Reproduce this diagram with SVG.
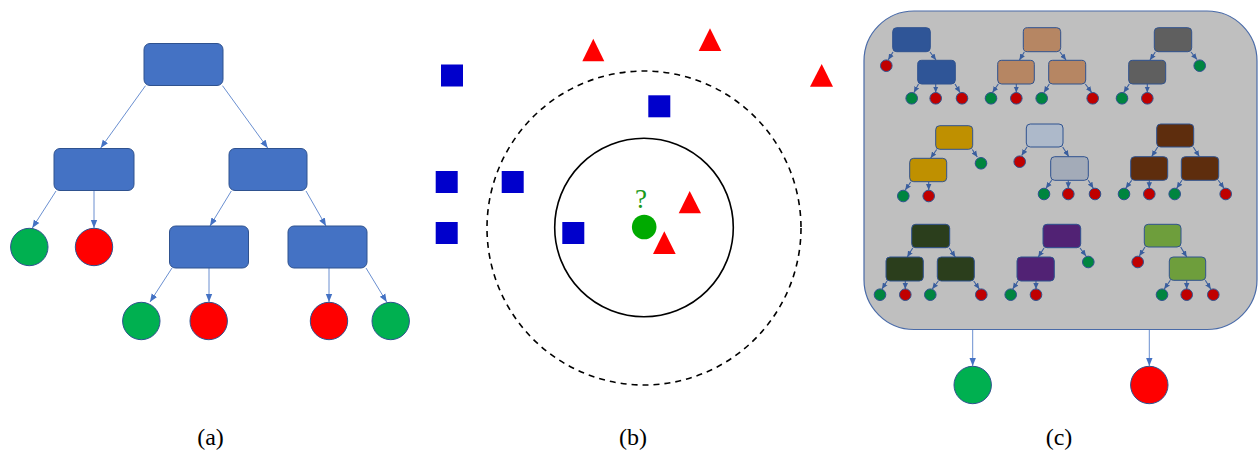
<svg xmlns="http://www.w3.org/2000/svg" width="1258" height="451" viewBox="0 0 1258 451">
<style>
.bn{fill:#4472C4;stroke:#2F528F;stroke-width:1}
.bg{fill:#00B050;stroke:#2F528F;stroke-width:1}
.br{fill:#FF0000;stroke:#2F528F;stroke-width:1}
.ba{stroke:#4472C4;stroke-width:0.8;fill:none;marker-end:url(#ah)}
.sa{stroke:#3A5E9E;stroke-width:1.1;fill:none;marker-end:url(#sh)}
.sn{stroke:#2F528F;stroke-width:1}
.sg{fill:#00853F;stroke:#2F528F;stroke-width:1}
.sr{fill:#C00000;stroke:#2F528F;stroke-width:1}
.sq{fill:#0000CC}
.tr{fill:#FF0000}
.lbl{font-family:"Liberation Serif","Times New Roman",serif;font-size:24px;fill:#000;text-anchor:middle}
</style>
<defs>
<marker id="ah" markerUnits="userSpaceOnUse" markerWidth="8" markerHeight="8" viewBox="0 0 8 8" refX="8" refY="4" orient="auto">
<path d="M0,0.8 L8,4 L0,7.2 Z" fill="#4472C4"/>
</marker>
<marker id="sh" markerUnits="userSpaceOnUse" markerWidth="6" markerHeight="6" viewBox="0 0 6 6" refX="6" refY="3" orient="auto">
<path d="M0,0.3 L6,3 L0,5.7 Z" fill="#3A5E9E"/>
</marker>
</defs>
<rect width="1258" height="451" fill="#FFFFFF"/>

<!-- ===== Panel (a) ===== -->
<g id="a-connectors">
<line class="ba" x1="145.5" y1="85.7" x2="100.7" y2="148"/>
<line class="ba" x1="222.5" y1="85.7" x2="267.7" y2="148"/>
<line class="ba" x1="56" y1="191" x2="32.3" y2="228"/>
<line class="ba" x1="94" y1="191" x2="94" y2="228"/>
<line class="ba" x1="231.3" y1="191" x2="210" y2="226"/>
<line class="ba" x1="306" y1="191" x2="326" y2="226"/>
<line class="ba" x1="172" y1="268" x2="150" y2="302"/>
<line class="ba" x1="209" y1="268" x2="209" y2="302"/>
<line class="ba" x1="329" y1="268" x2="329" y2="302"/>
<line class="ba" x1="366" y1="268" x2="386.7" y2="302"/>
</g>
<g id="a-root"><rect class="bn" x="144" y="43.5" width="79" height="42" rx="6"/></g>
<g id="a-left"><rect class="bn" x="54" y="148.5" width="80" height="42" rx="6"/></g>
<g id="a-right"><rect class="bn" x="229" y="148.5" width="78" height="42" rx="6"/></g>
<g id="a-rl"><rect class="bn" x="169.5" y="226" width="79" height="42" rx="6"/></g>
<g id="a-rr"><rect class="bn" x="288" y="226" width="79" height="42" rx="6"/></g>
<g id="a-leaf1"><circle class="bg" cx="29.3" cy="247" r="18.7"/></g>
<g id="a-leaf2"><circle class="br" cx="94" cy="247" r="18.7"/></g>
<g id="a-leaf3"><circle class="bg" cx="141.3" cy="321" r="18.7"/></g>
<g id="a-leaf4"><circle class="br" cx="208.7" cy="321" r="18.7"/></g>
<g id="a-leaf5"><circle class="br" cx="329" cy="321" r="18.7"/></g>
<g id="a-leaf6"><circle class="bg" cx="390.7" cy="321" r="18.7"/></g>
<text class="lbl" x="210.5" y="445">(a)</text>

<!-- ===== Panel (b) ===== -->
<g id="b-scene">
<circle cx="644" cy="228" r="157" fill="none" stroke="#000" stroke-width="1.6" stroke-dasharray="6,5"/>
<circle cx="644" cy="227.5" r="89.3" fill="none" stroke="#000" stroke-width="1.6"/>
<rect class="sq" x="441" y="64.5" width="22" height="22"/>
<rect class="sq" x="648.3" y="95.3" width="22" height="22"/>
<rect class="sq" x="435.7" y="171" width="22" height="22"/>
<rect class="sq" x="501.7" y="171" width="22" height="22"/>
<rect class="sq" x="435.7" y="222" width="22" height="22"/>
<rect class="sq" x="562.3" y="222" width="22" height="22"/>
<polygon class="tr" points="593.3,38.7 582.3,61.3 604.3,61.3"/>
<polygon class="tr" points="710,28.3 698.7,51 721.3,51"/>
<polygon class="tr" points="821.7,64 810,86.7 833,86.7"/>
<polygon class="tr" points="689.7,191 678.7,213.3 701,213.3"/>
<polygon class="tr" points="664.3,231.3 653,254 675.7,254"/>
<circle cx="644.2" cy="227" r="12.3" fill="#00AA00"/>
<text x="641" y="207.5" font-family="'Liberation Serif','Times New Roman',serif" font-size="27" fill="#1A9A1A" text-anchor="middle">?</text>
</g>
<text class="lbl" x="633" y="445">(b)</text>

<!-- ===== Panel (c) ===== -->
<g id="c-forest">
<rect x="864" y="11" width="393" height="318.5" rx="50" fill="#BFBFBF" stroke="#4A6BA8" stroke-width="1.2"/>
</g>

<g id="c-connectors">
<line class="ba" x1="972.7" y1="330" x2="972.7" y2="366"/>
<line class="ba" x1="1149.3" y1="330" x2="1149.3" y2="366"/>
<!-- tree 1 -->
<line class="sa" x1="893" y1="52" x2="888.3" y2="59.8"/>
<line class="sa" x1="930" y1="52" x2="936" y2="60"/>
<line class="sa" x1="918.5" y1="84" x2="914" y2="92.5"/>
<line class="sa" x1="935.7" y1="84" x2="935.7" y2="92.5"/>
<line class="sa" x1="955" y1="84" x2="960" y2="92.5"/>
<!-- tree 2 -->
<line class="sa" x1="1024.3" y1="52" x2="1019.5" y2="60"/>
<line class="sa" x1="1060" y1="52" x2="1066" y2="60"/>
<line class="sa" x1="998.3" y1="84" x2="992.5" y2="92.5"/>
<line class="sa" x1="1016.3" y1="84" x2="1016.3" y2="92.5"/>
<line class="sa" x1="1049.3" y1="84" x2="1044" y2="92.5"/>
<line class="sa" x1="1085.3" y1="84" x2="1091.7" y2="92.5"/>
<!-- tree 3 -->
<line class="sa" x1="1155.3" y1="52" x2="1150" y2="60"/>
<line class="sa" x1="1191" y1="52" x2="1197" y2="59.5"/>
<line class="sa" x1="1129.3" y1="84" x2="1123.7" y2="92.5"/>
<line class="sa" x1="1147.3" y1="84" x2="1147.3" y2="92.5"/>
<!-- tree 4 -->
<line class="sa" x1="936.7" y1="149.5" x2="930.7" y2="158"/>
<line class="sa" x1="972.3" y1="149.5" x2="977.3" y2="157"/>
<line class="sa" x1="910.7" y1="182" x2="905.3" y2="190"/>
<line class="sa" x1="928.7" y1="182" x2="928.7" y2="190"/>
<!-- tree 5 -->
<line class="sa" x1="1027" y1="147" x2="1021.7" y2="155.5"/>
<line class="sa" x1="1062.7" y1="147" x2="1068.7" y2="156.5"/>
<line class="sa" x1="1051.7" y1="180.3" x2="1046" y2="188.3"/>
<line class="sa" x1="1068.3" y1="180.3" x2="1068.3" y2="188.3"/>
<line class="sa" x1="1088.3" y1="180.3" x2="1093.3" y2="188.3"/>
<!-- tree 6 -->
<line class="sa" x1="1157.7" y1="147" x2="1151.7" y2="156.5"/>
<line class="sa" x1="1193.3" y1="147" x2="1199.3" y2="156.5"/>
<line class="sa" x1="1131.7" y1="180.3" x2="1125.7" y2="188.3"/>
<line class="sa" x1="1149.3" y1="180.3" x2="1149.3" y2="188.3"/>
<line class="sa" x1="1182" y1="180.3" x2="1176.7" y2="188.3"/>
<line class="sa" x1="1218.3" y1="180.3" x2="1224" y2="188.3"/>
<!-- tree 7 -->
<line class="sa" x1="912.7" y1="248" x2="907.3" y2="257"/>
<line class="sa" x1="949.3" y1="248" x2="955.3" y2="257"/>
<line class="sa" x1="887" y1="281" x2="882" y2="289"/>
<line class="sa" x1="905.3" y1="281" x2="905.3" y2="289"/>
<line class="sa" x1="938.3" y1="281" x2="932.3" y2="289"/>
<line class="sa" x1="973.7" y1="281" x2="979.3" y2="289"/>
<!-- tree 8 -->
<line class="sa" x1="1044" y1="248" x2="1038.3" y2="257"/>
<line class="sa" x1="1080" y1="248" x2="1086" y2="256"/>
<line class="sa" x1="1018" y1="281" x2="1012.7" y2="289"/>
<line class="sa" x1="1036" y1="281" x2="1036" y2="289"/>
<!-- tree 9 -->
<line class="sa" x1="1145" y1="247" x2="1139.3" y2="256"/>
<line class="sa" x1="1180.7" y1="247" x2="1186.7" y2="257"/>
<line class="sa" x1="1170.3" y1="280.3" x2="1164.3" y2="289"/>
<line class="sa" x1="1186.7" y1="280.3" x2="1186.7" y2="289"/>
<line class="sa" x1="1205.3" y1="280.3" x2="1210.7" y2="289"/>
</g>

<g id="tree1">
<rect class="sn" x="892.7" y="27.7" width="37.6" height="24" rx="4" fill="#2F5597"/>
<rect class="sn" x="917.7" y="60.3" width="37.6" height="23.7" rx="4" fill="#2F5597"/>
<circle class="sr" cx="886.3" cy="65.7" r="5.8"/>
<circle class="sg" cx="911.7" cy="98.3" r="5.8"/>
<circle class="sr" cx="935.7" cy="98.3" r="5.8"/>
<circle class="sr" cx="962" cy="98.3" r="5.8"/>
</g>
<g id="tree2">
<rect class="sn" x="1023.3" y="27.7" width="37.4" height="24" rx="4" fill="#B68663"/>
<rect class="sn" x="997.7" y="60.3" width="36.6" height="23.7" rx="4" fill="#B68663"/>
<rect class="sn" x="1048.7" y="60.3" width="37" height="23.7" rx="4" fill="#B68663"/>
<circle class="sg" cx="991" cy="98.3" r="5.8"/>
<circle class="sr" cx="1016.3" cy="98.3" r="5.8"/>
<circle class="sg" cx="1041.7" cy="98.3" r="5.8"/>
<circle class="sr" cx="1092.7" cy="98.3" r="5.8"/>
</g>
<g id="tree3">
<rect class="sn" x="1154.3" y="27.7" width="37.4" height="24" rx="4" fill="#5F5F5F"/>
<rect class="sn" x="1128.7" y="60.3" width="37" height="23.7" rx="4" fill="#5F5F5F"/>
<circle class="sg" cx="1199.7" cy="65.7" r="5.8"/>
<circle class="sg" cx="1122" cy="98.3" r="5.8"/>
<circle class="sr" cx="1147.3" cy="98.3" r="5.8"/>
</g>
<g id="tree4">
<rect class="sn" x="935.7" y="125.7" width="37" height="23.6" rx="4" fill="#BF9000"/>
<rect class="sn" x="909.7" y="158.3" width="37" height="23.4" rx="4" fill="#BF9000"/>
<circle class="sg" cx="981" cy="163.3" r="5.8"/>
<circle class="sg" cx="903.3" cy="196" r="5.8"/>
<circle class="sr" cx="928.7" cy="196" r="5.8"/>
</g>
<g id="tree5">
<rect class="sn" x="1026.3" y="124" width="36.7" height="23" rx="4" fill="#ADB9CA"/>
<rect class="sn" x="1050.7" y="156.7" width="37.6" height="23.6" rx="4" fill="#A3ABB8"/>
<circle class="sr" cx="1019.7" cy="161.7" r="5.8"/>
<circle class="sg" cx="1044" cy="194" r="5.8"/>
<circle class="sr" cx="1068.3" cy="194" r="5.8"/>
<circle class="sr" cx="1095" cy="194" r="5.8"/>
</g>
<g id="tree6">
<rect class="sn" x="1156.7" y="124" width="37" height="23" rx="4" fill="#5E2D0D"/>
<rect class="sn" x="1130.7" y="156.7" width="37" height="23.6" rx="4" fill="#5E2D0D"/>
<rect class="sn" x="1181.3" y="156.7" width="37.4" height="23.6" rx="4" fill="#5E2D0D"/>
<circle class="sg" cx="1124" cy="194" r="5.8"/>
<circle class="sr" cx="1149.3" cy="194" r="5.8"/>
<circle class="sg" cx="1174.7" cy="194" r="5.8"/>
<circle class="sr" cx="1225.7" cy="194" r="5.8"/>
</g>
<g id="tree7">
<rect class="sn" x="911.7" y="224.3" width="38" height="23.4" rx="4" fill="#2B3E1C"/>
<rect class="sn" x="886" y="257" width="37.3" height="24" rx="4" fill="#2B3E1C"/>
<rect class="sn" x="937.3" y="257" width="37" height="24" rx="4" fill="#2B3E1C"/>
<circle class="sg" cx="880" cy="294.7" r="5.8"/>
<circle class="sr" cx="905.3" cy="294.7" r="5.8"/>
<circle class="sg" cx="930.3" cy="294.7" r="5.8"/>
<circle class="sr" cx="981.3" cy="294.7" r="5.8"/>
</g>
<g id="tree8">
<rect class="sn" x="1043" y="224.3" width="37.7" height="23.4" rx="4" fill="#512274"/>
<rect class="sn" x="1017" y="257" width="37.3" height="24" rx="4" fill="#512274"/>
<circle class="sg" cx="1088.3" cy="262" r="5.8"/>
<circle class="sg" cx="1010.7" cy="294.7" r="5.8"/>
<circle class="sr" cx="1036" cy="294.7" r="5.8"/>
</g>
<g id="tree9">
<rect class="sn" x="1144.3" y="224.3" width="36.7" height="22.7" rx="4" fill="#6E9E3C"/>
<rect class="sn" x="1169.3" y="257" width="36.4" height="23.3" rx="4" fill="#6E9E3C"/>
<circle class="sr" cx="1137.7" cy="262" r="5.8"/>
<circle class="sg" cx="1162" cy="294.7" r="5.8"/>
<circle class="sr" cx="1186.7" cy="294.7" r="5.8"/>
<circle class="sr" cx="1213.3" cy="294.7" r="5.8"/>
</g>
<g id="c-out-green"><circle class="bg" cx="972.7" cy="385" r="18.7"/></g>
<g id="c-out-red"><circle class="br" cx="1149.3" cy="385" r="18.7"/></g>
<text class="lbl" x="1059" y="445">(c)</text>
</svg>
